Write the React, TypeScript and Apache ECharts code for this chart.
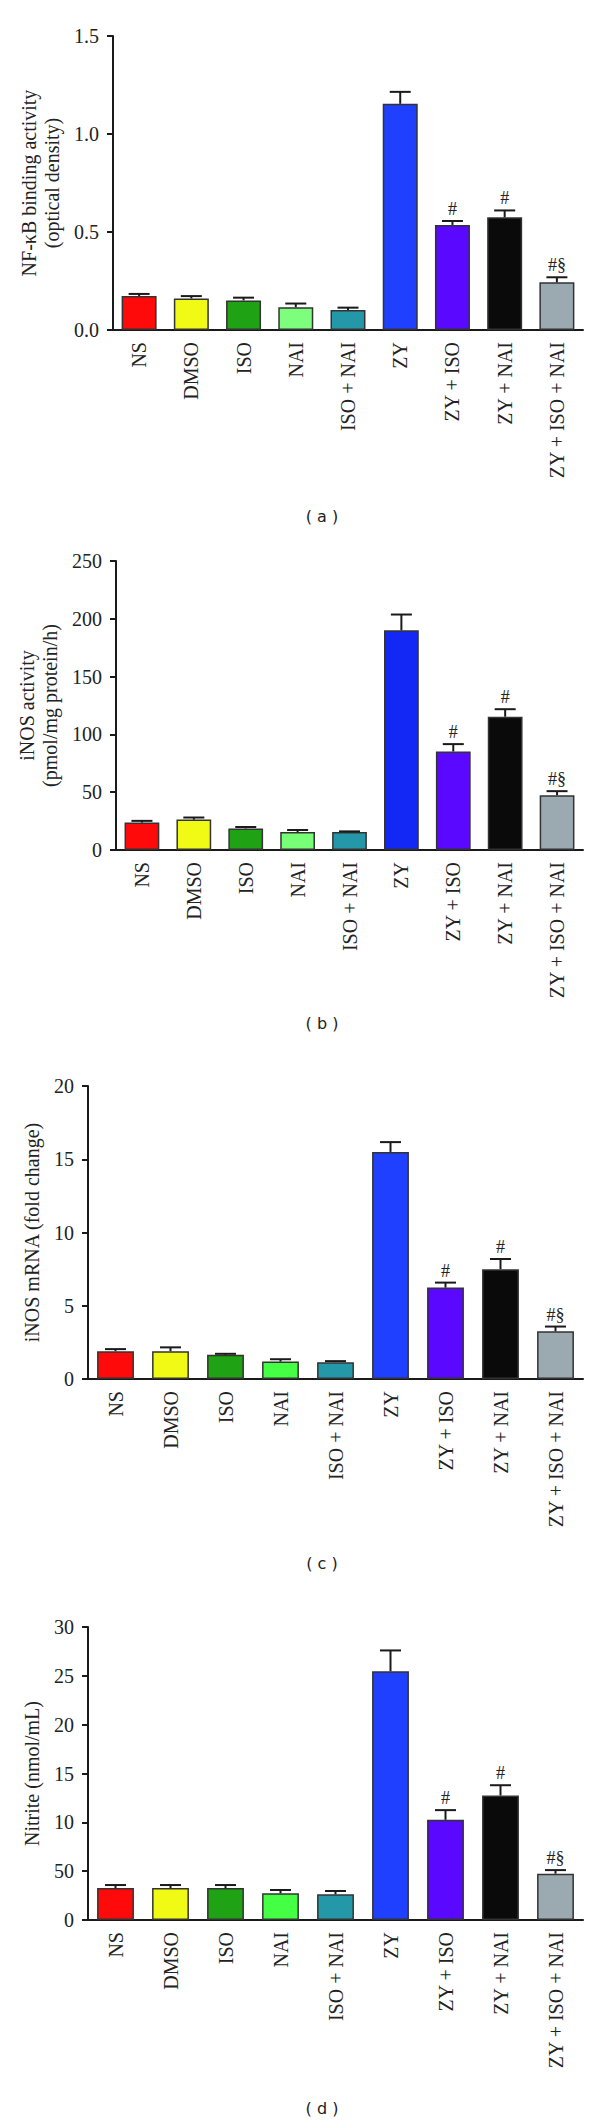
import React, { useEffect, useRef } from "react";
import * as echarts from "echarts";

const categories = ["NS", "DMSO", "ISO", "NAI", "ISO + NAI", "ZY", "ZY + ISO", "ZY + NAI", "ZY + ISO + NAI"];
const annotations = ["", "", "", "", "", "", "#", "#", "#§"];

// (a) NF-κB binding activity
const nfkbMean = [0.173, 0.161, 0.151, 0.116, 0.102, 1.154, 0.536, 0.575, 0.243];
const nfkbErr = [0.011, 0.012, 0.014, 0.019, 0.012, 0.061, 0.02, 0.035, 0.026];
const nfkbTicks = ["0.0", "0.5", "1.0", "1.5"];

// (b) iNOS activity
const inosMean = [23.7, 26.3, 18.7, 15.5, 15.5, 190, 85.2, 115.3, 47.4];
const inosErr = [1.5, 1.8, 1.2, 1.8, 0.6, 13.7, 6.4, 6.5, 3.5];
const inosTicks = ["0", "50", "100", "150", "200", "250"];

// (c) iNOS mRNA
const mrnaMean = [1.9, 1.9, 1.65, 1.19, 1.15, 15.5, 6.24, 7.5, 3.26];
const mrnaErr = [0.14, 0.26, 0.07, 0.16, 0.07, 0.67, 0.34, 0.69, 0.32];
const mrnaTicks = ["0", "5", "10", "15", "20"];

// (d) Nitrite
const nitriteMean = [3.27, 3.27, 3.27, 2.73, 2.63, 25.47, 10.26, 12.75, 4.74];
const nitriteErr = [0.31, 0.31, 0.31, 0.34, 0.34, 2.13, 0.99, 1.05, 0.37];
const nitriteTicks = ["0", "50", "10", "15", "20", "25", "30"];

const SERIF = "'Liberation Serif', 'Times New Roman', serif";
const INK = "#1a1a1a";

export default function App() {
  const ref = useRef<HTMLDivElement>(null);

  useEffect(() => {
    document.body.style.margin = "0";
    if (!ref.current) return;
    const chart = echarts.init(ref.current, undefined, { renderer: "svg" });

    const naiA = "#7dff7d";
    const naiC = "#45ff45";
    const basePalette = ["#ff0a0a", "#f0fa14", "#1fa314", naiA, "#2498a8", "#2040ff", "#5a08ff", "#0a0a0a", "#9ba9b1"];

    const panels = [
      { mean: nfkbMean, err: nfkbErr, ticks: nfkbTicks, max: 1.5, interval: 0.5, left: 113, top: 36, height: 294, nameGap: 46, name: "NF-κB binding activity\n(optical density)", letterY: 516, letter: "( a )", nai: naiA, zy: "#2040ff" },
      { mean: inosMean, err: inosErr, ticks: inosTicks, max: 250, interval: 50, left: 116, top: 561, height: 289, nameGap: 50, name: "iNOS activity\n(pmol/mg protein/h)", letterY: 1023, letter: "( b )", nai: "#77ff77", zy: "#1428f5" },
      { mean: mrnaMean, err: mrnaErr, ticks: mrnaTicks, max: 20, interval: 5, left: 88, top: 1086, height: 293, nameGap: 44, name: "iNOS mRNA (fold change)", letterY: 1563, letter: "( c )", nai: naiC, zy: "#2040ff" },
      { mean: nitriteMean, err: nitriteErr, ticks: nitriteTicks, max: 30, interval: 5, left: 88, top: 1627, height: 293, nameGap: 44, name: "Nitrite (nmol/mL)", letterY: 2108, letter: "( d )", nai: naiC, zy: "#2040ff" },
    ];

    const grid: any[] = [];
    const xAxis: any[] = [];
    const yAxis: any[] = [];
    const series: any[] = [];
    const graphic: any[] = [];

    panels.forEach((p, k) => {
      grid.push({ left: p.left, right: 17, top: p.top, height: p.height, containLabel: false });
      xAxis.push({
        type: "category",
        gridIndex: k,
        data: categories,
        axisLine: { lineStyle: { color: INK, width: 2 } },
        axisTick: { alignWithLabel: true, length: 7, lineStyle: { color: INK, width: 2 } },
        axisLabel: { rotate: 90, margin: 12, fontFamily: SERIF, fontSize: 20, color: "#222", interval: 0 },
      });
      yAxis.push({
        type: "value",
        gridIndex: k,
        min: 0,
        max: p.max,
        interval: p.interval,
        name: p.name,
        nameLocation: "middle",
        nameGap: p.nameGap,
        nameTextStyle: { fontFamily: SERIF, fontSize: 20, color: "#222", lineHeight: 23 },
        axisLine: { show: true, lineStyle: { color: INK, width: 2 } },
        axisTick: { show: true, length: 6, lineStyle: { color: INK, width: 2 } },
        splitLine: { show: false },
        axisLabel: {
          margin: 14,
          fontFamily: SERIF,
          fontSize: 20,
          color: "#222",
          formatter: (_v: number, idx: number) => p.ticks[idx],
        },
      });
      const palette = basePalette.slice();
      palette[3] = p.nai;
      palette[5] = p.zy;
      series.push({
        type: "bar",
        xAxisIndex: k,
        yAxisIndex: k,
        barCategoryGap: "33%",
        data: p.mean.map((v, i) => ({
          value: v,
          itemStyle: { color: palette[i], borderColor: "#333", borderWidth: 1.5 },
        })),
        z: 2,
      });
      series.push({
        type: "custom",
        xAxisIndex: k,
        yAxisIndex: k,
        encode: { x: 0, y: 1 },
        data: p.mean.map((v, i) => [i, v + p.err[i]]),
        z: 3,
        renderItem: (params: any, api: any) => {
          const i = params.dataIndex;
          const p0 = api.coord([i, p.mean[i]]);
          const p1 = api.coord([i, p.mean[i] + p.err[i]]);
          const children: any[] = [
            { type: "line", shape: { x1: p0[0], y1: p0[1], x2: p1[0], y2: p1[1] }, style: { stroke: INK, lineWidth: 2 } },
            { type: "line", shape: { x1: p1[0] - 10.5, y1: p1[1], x2: p1[0] + 10.5, y2: p1[1] }, style: { stroke: INK, lineWidth: 2 } },
          ];
          if (annotations[i]) {
            children.push({
              type: "text",
              x: p1[0],
              y: p1[1] - 3,
              style: { text: annotations[i], align: "center", verticalAlign: "bottom", fontFamily: SERIF, fontSize: 18, fill: "#222" },
            });
          }
          return { type: "group", children };
        },
      });
      graphic.push({
        type: "text",
        x: 322,
        y: p.letterY,
        style: { text: p.letter, align: "center", verticalAlign: "middle", fontFamily: "'DejaVu Sans', Verdana, sans-serif", fontSize: 16, fill: "#222" },
      });
    });

    chart.setOption({ animation: false, backgroundColor: "#fff", grid, xAxis, yAxis, series, graphic });
    return () => chart.dispose();
  }, []);

  return <div ref={ref} style={{ position: "absolute", left: 0, top: 0, width: 600, height: 2128 }} />;
}
